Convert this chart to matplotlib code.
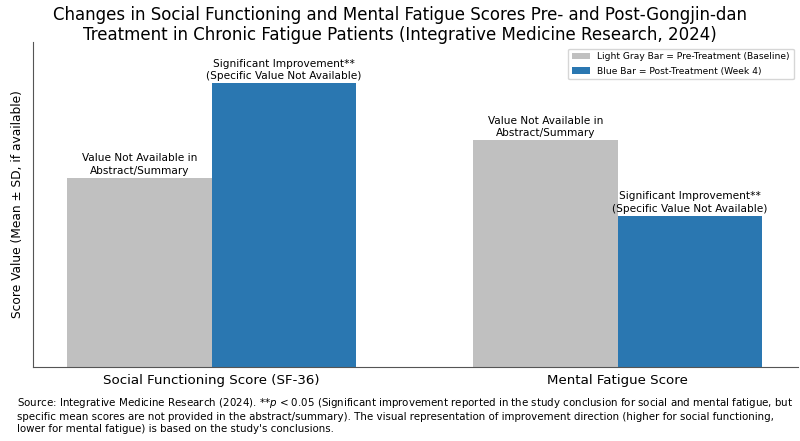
import numpy as np
import matplotlib.pyplot as plt

plt.rcParams['font.family'] = ['DejaVu Sans']

# data (illustrative heights, no values given in source)
categories = ['Social Functioning Score (SF-36)', 'Mental Fatigue Score']
pre_values = [50, 60]
post_values = [75, 40]
pre_labels = ['Value Not Available in\nAbstract/Summary', 'Value Not Available in\nAbstract/Summary']
post_labels = ['Significant Improvement**\n(Specific Value Not Available)',
               'Significant Improvement**\n(Specific Value Not Available)']

gray = '#c0c0c0'
blue = '#2a77b1'

fig = plt.figure(figsize=(8, 4.41), dpi=100)
ax = fig.add_axes([0.041, 0.168, 0.957, 0.737])

x = np.arange(len(categories))
w = 0.355
b1 = ax.bar(x - w / 2, pre_values, w, color=gray, label='Light Gray Bar = Pre-Treatment (Baseline)')
b2 = ax.bar(x + w / 2, post_values, w, color=blue, label='Blue Bar = Post-Treatment (Week 4)')

for rect, txt in zip(b1, pre_labels):
    ax.annotate(txt, (rect.get_x() + rect.get_width() / 2, rect.get_height()),
                xytext=(0, 1.5), textcoords='offset points', ha='center', va='bottom',
                fontsize=7.6, linespacing=1.3)
for rect, txt in zip(b2, post_labels):
    ax.annotate(txt, (rect.get_x() + rect.get_width() / 2, rect.get_height()),
                xytext=(0, 1.5), textcoords='offset points', ha='center', va='bottom',
                fontsize=7.6, linespacing=1.3)

ax.set_xlim(-0.44, 1.445)
ax.set_ylim(0, 86)
ax.set_xticks(x)
ax.set_xticklabels(categories, fontsize=9.6)
ax.tick_params(axis='x', length=0, pad=5)
ax.set_yticks([])
ax.set_ylabel('Score Value (Mean ± SD, if available)', fontsize=8.8, labelpad=6)
for s in ['top', 'right']:
    ax.spines[s].set_visible(False)
for s in ['left', 'bottom']:
    ax.spines[s].set_color('#555555')

ax.legend(loc='upper right', fontsize=6.6, frameon=True, handlelength=2.0,
          bbox_to_anchor=(0.996, 0.985), borderaxespad=0.2, labelspacing=0.6)

fig.text(0.5, 0.943, 'Changes in Social Functioning and Mental Fatigue Scores Pre- and Post-Gongjin-dan\n'
         'Treatment in Chronic Fatigue Patients (Integrative Medicine Research, 2024)',
         ha='center', va='center', fontsize=12, linespacing=1.15)

fig.text(0.021, 0.015,
         "Source: Integrative Medicine Research (2024). **$p$ < 0.05 (Significant improvement reported in the study conclusion for social and mental fatigue, but\n"
         "specific mean scores are not provided in the abstract/summary). The visual representation of improvement direction (higher for social functioning,\n"
         "lower for mental fatigue) is based on the study's conclusions.",
         ha='left', va='bottom', fontsize=7.4, linespacing=1.3)

fig.savefig('out.png', dpi=100)
